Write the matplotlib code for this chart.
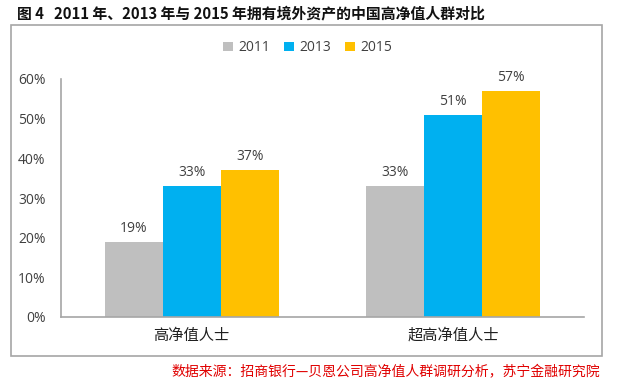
import matplotlib
matplotlib.use("Agg")
import matplotlib.pyplot as plt
from matplotlib.patches import Rectangle
import numpy as np

plt.rcParams['font.family'] = ['Noto Sans CJK SC', 'DejaVu Sans']
NUMFONT = ['Open Sans', 'DejaVu Sans']

categories = ["高净值人士", "超高净值人士"]
years = ["2011", "2013", "2015"]
values = {
    "2011": [0.19, 0.33],
    "2013": [0.33, 0.51],
    "2015": [0.37, 0.57],
}
colors = {"2011": "#BFBFBF", "2013": "#00B0F0", "2015": "#FFC000"}
yticks = [0, 0.1, 0.2, 0.3, 0.4, 0.5, 0.6]
title = "图 4   2011 年、2013 年与 2015 年拥有境外资产的中国高净值人群对比"
source = "数据来源：招商银行—贝恩公司高净值人群调研分析，苏宁金融研究院"

W, H = 640, 384
fig = plt.figure(figsize=(W/100, H/100), dpi=100)

# outer frame
fig.patches.append(Rectangle((11/W, 1-356/H), (602-11)/W, (356-25)/H,
                             transform=fig.transFigure, fill=False,
                             edgecolor="#A6A6A6", linewidth=1.2))

ax = fig.add_axes([61/W, 1-317/H, (584-61)/W, (317-79)/H])
x = np.arange(len(categories))
bw = 0.222
for i, y in enumerate(years):
    pos = x + (i-1)*bw
    ax.bar(pos, values[y], width=bw, color=colors[y], label=y)
    for p, v in zip(pos, values[y]):
        ax.text(p, v + 0.015, f"{round(v*100)}%", ha="center", va="bottom",
                fontsize=10, color="#404040", family=NUMFONT)

ax.set_xlim(-0.5, 1.5)
ax.set_ylim(0, 0.6)
ax.set_yticks(yticks)
ax.set_yticklabels([f"{round(t*100)}%" for t in yticks], fontsize=10, color="#404040",
                   family=NUMFONT)
ax.set_xticks(x)
ax.set_xticklabels(categories, fontsize=11, color="#202020")
ax.tick_params(axis="both", length=0)
ax.tick_params(axis="y", pad=11)
ax.tick_params(axis="x", pad=7)
for s in ["top", "right"]:
    ax.spines[s].set_visible(False)
for s in ["left", "bottom"]:
    ax.spines[s].set_color("#A6A6A6")
    ax.spines[s].set_linewidth(1.2)

leg = ax.legend(loc="upper center", bbox_to_anchor=(0.472, 1.215), ncol=3, frameon=False,
                prop={'family': NUMFONT, 'size': 10},
                handlelength=0.7, handleheight=0.7, handletextpad=0.4,
                columnspacing=1.0)
for t in leg.get_texts():
    t.set_color("#404040")

fig.text(17/W, 1-13/H, title, fontsize=10.7, fontweight="bold", va="center", ha="left",
         color="#111111")
fig.text(600/W, 1-372/H, source, fontsize=10, style="italic", color="#E00000",
         va="center", ha="right")

fig.savefig("out.png", dpi=100)
